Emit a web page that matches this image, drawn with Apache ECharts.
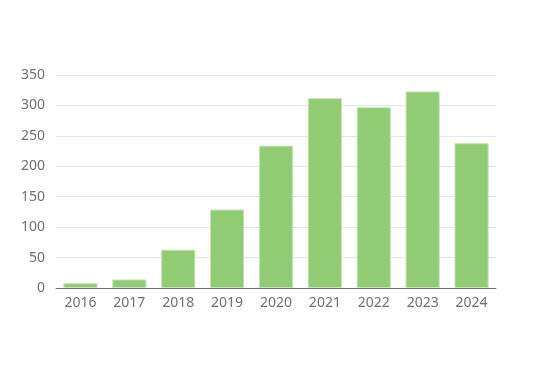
<!DOCTYPE html>
<html><head><meta charset="utf-8">
<script src="https://cdn.jsdelivr.net/npm/echarts@6/dist/echarts.min.js"></script>
<style>html,body{margin:0;padding:0;background:#fff}#c{width:550px;height:375px}</style>
</head><body><div id="c"></div>
<script>
const categories = ['2016','2017','2018','2019','2020','2021','2022','2023','2024'];
const values = [8, 14, 63, 129, 234, 312, 297, 323, 238];
const yTicks = {min: 0, max: 350, interval: 50};

const chart = echarts.init(document.getElementById('c'));
chart.setOption({
  animation: false,
  textStyle: {fontFamily: '"Noto Sans", sans-serif'},
  grid: {left: 56, right: 54, top: 75, bottom: 87},
  xAxis: {
    type: 'category', data: categories,
    axisLine: {lineStyle: {color: '#6E7079'}},
    axisTick: {lineStyle: {color: '#6E7079'}},
    axisLabel: {color: '#6E7079', fontSize: 14, margin: 8, fontFamily: '"Noto Sans", sans-serif'}
  },
  yAxis: {
    type: 'value', min: yTicks.min, max: yTicks.max, interval: yTicks.interval,
    axisLabel: {color: '#6E7079', fontSize: 14, margin: 11, fontFamily: '"Noto Sans", sans-serif'},
    splitLine: {lineStyle: {color: '#E0E6F1'}}
  },
  series: [{
    type: 'bar', data: values, barWidth: '70%',
    itemStyle: {color: '#91cc75', borderColor: '#c8e6b8', borderWidth: 1}
  }]
});
</script></body></html>
